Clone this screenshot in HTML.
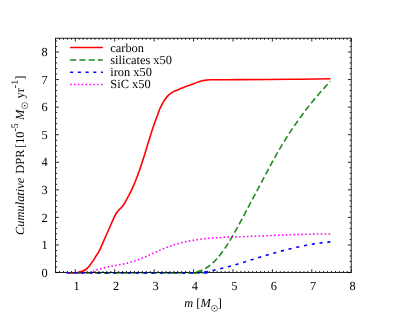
<!DOCTYPE html>
<html><head><meta charset="utf-8"><style>
html,body{margin:0;padding:0;background:#fff;}
svg{display:block;font-family:"Liberation Serif",serif;will-change:transform;}
text{text-rendering:geometricPrecision;}
</style></head><body>
<svg width="407" height="315" viewBox="0 0 407 315">
<defs><filter id="soft" x="0" y="0" width="407" height="315" filterUnits="userSpaceOnUse"><feGaussianBlur stdDeviation="0.35"/></filter></defs>
<rect width="407" height="315" fill="#fff"/>
<g filter="url(#soft)">
<g stroke="#000" stroke-width="0.85" fill="none">
<path d="M55.60 272.55 v-1.60 M55.60 38.20 v1.60"/><path d="M59.54 272.55 v-1.60 M59.54 38.20 v1.60"/><path d="M63.48 272.55 v-1.60 M63.48 38.20 v1.60"/><path d="M67.42 272.55 v-1.60 M67.42 38.20 v1.60"/><path d="M71.37 272.55 v-1.60 M71.37 38.20 v1.60"/><path d="M75.31 272.55 v-3.30 M75.31 38.20 v3.30"/><path d="M79.25 272.55 v-1.60 M79.25 38.20 v1.60"/><path d="M83.19 272.55 v-1.60 M83.19 38.20 v1.60"/><path d="M87.13 272.55 v-1.60 M87.13 38.20 v1.60"/><path d="M91.07 272.55 v-1.60 M91.07 38.20 v1.60"/><path d="M95.01 272.55 v-1.60 M95.01 38.20 v1.60"/><path d="M98.95 272.55 v-1.60 M98.95 38.20 v1.60"/><path d="M102.90 272.55 v-1.60 M102.90 38.20 v1.60"/><path d="M106.84 272.55 v-1.60 M106.84 38.20 v1.60"/><path d="M110.78 272.55 v-1.60 M110.78 38.20 v1.60"/><path d="M114.72 272.55 v-3.30 M114.72 38.20 v3.30"/><path d="M118.66 272.55 v-1.60 M118.66 38.20 v1.60"/><path d="M122.60 272.55 v-1.60 M122.60 38.20 v1.60"/><path d="M126.54 272.55 v-1.60 M126.54 38.20 v1.60"/><path d="M130.49 272.55 v-1.60 M130.49 38.20 v1.60"/><path d="M134.43 272.55 v-1.60 M134.43 38.20 v1.60"/><path d="M138.37 272.55 v-1.60 M138.37 38.20 v1.60"/><path d="M142.31 272.55 v-1.60 M142.31 38.20 v1.60"/><path d="M146.25 272.55 v-1.60 M146.25 38.20 v1.60"/><path d="M150.19 272.55 v-1.60 M150.19 38.20 v1.60"/><path d="M154.13 272.55 v-3.30 M154.13 38.20 v3.30"/><path d="M158.07 272.55 v-1.60 M158.07 38.20 v1.60"/><path d="M162.02 272.55 v-1.60 M162.02 38.20 v1.60"/><path d="M165.96 272.55 v-1.60 M165.96 38.20 v1.60"/><path d="M169.90 272.55 v-1.60 M169.90 38.20 v1.60"/><path d="M173.84 272.55 v-1.60 M173.84 38.20 v1.60"/><path d="M177.78 272.55 v-1.60 M177.78 38.20 v1.60"/><path d="M181.72 272.55 v-1.60 M181.72 38.20 v1.60"/><path d="M185.66 272.55 v-1.60 M185.66 38.20 v1.60"/><path d="M189.61 272.55 v-1.60 M189.61 38.20 v1.60"/><path d="M193.55 272.55 v-3.30 M193.55 38.20 v3.30"/><path d="M197.49 272.55 v-1.60 M197.49 38.20 v1.60"/><path d="M201.43 272.55 v-1.60 M201.43 38.20 v1.60"/><path d="M205.37 272.55 v-1.60 M205.37 38.20 v1.60"/><path d="M209.31 272.55 v-1.60 M209.31 38.20 v1.60"/><path d="M213.25 272.55 v-1.60 M213.25 38.20 v1.60"/><path d="M217.19 272.55 v-1.60 M217.19 38.20 v1.60"/><path d="M221.14 272.55 v-1.60 M221.14 38.20 v1.60"/><path d="M225.08 272.55 v-1.60 M225.08 38.20 v1.60"/><path d="M229.02 272.55 v-1.60 M229.02 38.20 v1.60"/><path d="M232.96 272.55 v-3.30 M232.96 38.20 v3.30"/><path d="M236.90 272.55 v-1.60 M236.90 38.20 v1.60"/><path d="M240.84 272.55 v-1.60 M240.84 38.20 v1.60"/><path d="M244.78 272.55 v-1.60 M244.78 38.20 v1.60"/><path d="M248.73 272.55 v-1.60 M248.73 38.20 v1.60"/><path d="M252.67 272.55 v-1.60 M252.67 38.20 v1.60"/><path d="M256.61 272.55 v-1.60 M256.61 38.20 v1.60"/><path d="M260.55 272.55 v-1.60 M260.55 38.20 v1.60"/><path d="M264.49 272.55 v-1.60 M264.49 38.20 v1.60"/><path d="M268.43 272.55 v-1.60 M268.43 38.20 v1.60"/><path d="M272.37 272.55 v-3.30 M272.37 38.20 v3.30"/><path d="M276.31 272.55 v-1.60 M276.31 38.20 v1.60"/><path d="M280.26 272.55 v-1.60 M280.26 38.20 v1.60"/><path d="M284.20 272.55 v-1.60 M284.20 38.20 v1.60"/><path d="M288.14 272.55 v-1.60 M288.14 38.20 v1.60"/><path d="M292.08 272.55 v-1.60 M292.08 38.20 v1.60"/><path d="M296.02 272.55 v-1.60 M296.02 38.20 v1.60"/><path d="M299.96 272.55 v-1.60 M299.96 38.20 v1.60"/><path d="M303.90 272.55 v-1.60 M303.90 38.20 v1.60"/><path d="M307.85 272.55 v-1.60 M307.85 38.20 v1.60"/><path d="M311.79 272.55 v-3.30 M311.79 38.20 v3.30"/><path d="M315.73 272.55 v-1.60 M315.73 38.20 v1.60"/><path d="M319.67 272.55 v-1.60 M319.67 38.20 v1.60"/><path d="M323.61 272.55 v-1.60 M323.61 38.20 v1.60"/><path d="M327.55 272.55 v-1.60 M327.55 38.20 v1.60"/><path d="M331.49 272.55 v-1.60 M331.49 38.20 v1.60"/><path d="M335.43 272.55 v-1.60 M335.43 38.20 v1.60"/><path d="M339.38 272.55 v-1.60 M339.38 38.20 v1.60"/><path d="M343.32 272.55 v-1.60 M343.32 38.20 v1.60"/><path d="M347.26 272.55 v-1.60 M347.26 38.20 v1.60"/><path d="M351.20 272.55 v-3.30 M351.20 38.20 v3.30"/><path d="M55.60 272.55 h3.30 M351.20 272.55 h-3.30"/><path d="M55.60 267.04 h1.60 M351.20 267.04 h-1.60"/><path d="M55.60 261.52 h1.60 M351.20 261.52 h-1.60"/><path d="M55.60 256.01 h1.60 M351.20 256.01 h-1.60"/><path d="M55.60 250.49 h1.60 M351.20 250.49 h-1.60"/><path d="M55.60 244.98 h3.30 M351.20 244.98 h-3.30"/><path d="M55.60 239.47 h1.60 M351.20 239.47 h-1.60"/><path d="M55.60 233.95 h1.60 M351.20 233.95 h-1.60"/><path d="M55.60 228.44 h1.60 M351.20 228.44 h-1.60"/><path d="M55.60 222.92 h1.60 M351.20 222.92 h-1.60"/><path d="M55.60 217.41 h3.30 M351.20 217.41 h-3.30"/><path d="M55.60 211.89 h1.60 M351.20 211.89 h-1.60"/><path d="M55.60 206.38 h1.60 M351.20 206.38 h-1.60"/><path d="M55.60 200.87 h1.60 M351.20 200.87 h-1.60"/><path d="M55.60 195.35 h1.60 M351.20 195.35 h-1.60"/><path d="M55.60 189.84 h3.30 M351.20 189.84 h-3.30"/><path d="M55.60 184.32 h1.60 M351.20 184.32 h-1.60"/><path d="M55.60 178.81 h1.60 M351.20 178.81 h-1.60"/><path d="M55.60 173.30 h1.60 M351.20 173.30 h-1.60"/><path d="M55.60 167.78 h1.60 M351.20 167.78 h-1.60"/><path d="M55.60 162.27 h3.30 M351.20 162.27 h-3.30"/><path d="M55.60 156.75 h1.60 M351.20 156.75 h-1.60"/><path d="M55.60 151.24 h1.60 M351.20 151.24 h-1.60"/><path d="M55.60 145.73 h1.60 M351.20 145.73 h-1.60"/><path d="M55.60 140.21 h1.60 M351.20 140.21 h-1.60"/><path d="M55.60 134.70 h3.30 M351.20 134.70 h-3.30"/><path d="M55.60 129.18 h1.60 M351.20 129.18 h-1.60"/><path d="M55.60 123.67 h1.60 M351.20 123.67 h-1.60"/><path d="M55.60 118.15 h1.60 M351.20 118.15 h-1.60"/><path d="M55.60 112.64 h1.60 M351.20 112.64 h-1.60"/><path d="M55.60 107.13 h3.30 M351.20 107.13 h-3.30"/><path d="M55.60 101.61 h1.60 M351.20 101.61 h-1.60"/><path d="M55.60 96.10 h1.60 M351.20 96.10 h-1.60"/><path d="M55.60 90.58 h1.60 M351.20 90.58 h-1.60"/><path d="M55.60 85.07 h1.60 M351.20 85.07 h-1.60"/><path d="M55.60 79.56 h3.30 M351.20 79.56 h-3.30"/><path d="M55.60 74.04 h1.60 M351.20 74.04 h-1.60"/><path d="M55.60 68.53 h1.60 M351.20 68.53 h-1.60"/><path d="M55.60 63.01 h1.60 M351.20 63.01 h-1.60"/><path d="M55.60 57.50 h1.60 M351.20 57.50 h-1.60"/><path d="M55.60 51.99 h3.30 M351.20 51.99 h-3.30"/><path d="M55.60 46.47 h1.60 M351.20 46.47 h-1.60"/><path d="M55.60 40.96 h1.60 M351.20 40.96 h-1.60"/>
<rect x="55.6" y="38.2" width="295.60" height="234.35" stroke-width="0.85"/>
</g>
<defs>
<clipPath id="gA"><rect x="0" y="0" width="194" height="315"/></clipPath><clipPath id="gB"><rect x="194" y="0" width="213" height="315"/></clipPath>
<clipPath id="bA"><rect x="0" y="0" width="199" height="315"/></clipPath><clipPath id="bB"><rect x="199" y="0" width="208" height="315"/></clipPath>
<clipPath id="mA"><rect x="0" y="0" width="88" height="315"/></clipPath><clipPath id="mB"><rect x="88" y="0" width="319" height="315"/></clipPath>
</defs>
<g fill="none" stroke-width="1.6" stroke-linejoin="round">
<path d="M67.40 272.90 C68.83 272.89 74.17 272.97 76.00 272.85 C77.83 272.73 77.37 272.46 78.40 272.20 C79.43 271.94 80.97 271.75 82.20 271.30 C83.43 270.85 84.58 270.42 85.80 269.50 C87.02 268.58 88.27 267.28 89.50 265.80 C90.73 264.32 91.97 262.45 93.20 260.60 C94.43 258.75 95.95 256.18 96.90 254.70 C97.85 253.22 97.88 253.72 98.90 251.70 C99.92 249.68 101.63 245.68 103.00 242.60 C104.37 239.52 105.73 236.30 107.10 233.20 C108.47 230.10 110.05 226.60 111.20 224.00 C112.35 221.40 113.12 219.43 114.00 217.60 C114.88 215.77 115.81 214.13 116.50 213.00 C117.19 211.87 117.47 211.58 118.15 210.80 C118.83 210.02 119.77 209.18 120.60 208.30 C121.42 207.42 122.27 206.64 123.10 205.50 C123.93 204.36 124.77 202.89 125.60 201.46 C126.42 200.03 127.23 198.46 128.05 196.90 C128.87 195.34 129.68 193.78 130.50 192.09 C131.32 190.41 132.17 188.65 133.00 186.80 C133.83 184.94 134.73 182.83 135.50 180.96 C136.27 179.08 136.98 177.18 137.60 175.54 C138.22 173.90 138.55 172.98 139.20 171.11 C139.85 169.24 140.57 167.20 141.50 164.33 C142.43 161.46 143.70 157.43 144.80 153.89 C145.90 150.36 147.00 146.67 148.10 143.10 C149.20 139.53 150.43 135.52 151.40 132.49 C152.37 129.46 153.23 126.88 153.90 124.91 C154.57 122.94 154.82 122.24 155.40 120.66 C155.98 119.09 156.66 117.44 157.40 115.46 C158.14 113.49 159.03 110.74 159.85 108.80 C160.67 106.86 161.48 105.32 162.30 103.80 C163.12 102.28 163.83 101.07 164.80 99.70 C165.77 98.33 167.00 96.75 168.10 95.60 C169.20 94.45 170.30 93.55 171.40 92.80 C172.50 92.05 173.32 91.73 174.70 91.10 C176.07 90.47 178.00 89.68 179.65 89.00 C181.30 88.32 182.95 87.62 184.60 87.00 C186.25 86.38 187.93 85.88 189.55 85.30 C191.17 84.72 192.85 84.06 194.30 83.50 C195.75 82.94 196.90 82.40 198.25 81.95 C199.60 81.50 201.03 81.11 202.40 80.80 C203.78 80.49 205.13 80.27 206.50 80.10 C207.87 79.93 207.85 79.87 210.60 79.80 C213.35 79.73 218.18 79.73 223.00 79.70 C227.82 79.67 228.33 79.67 239.50 79.60 C250.67 79.53 274.83 79.43 290.00 79.30 C305.17 79.17 323.75 78.88 330.50 78.80" stroke="#ff0000"/>
<path d="M67.40 272.90 C88.50 272.90 172.47 273.05 194.00 272.90 C215.53 272.75 195.49 272.34 196.60 271.98 C197.71 271.62 199.31 271.27 200.66 270.74 C202.01 270.22 203.36 269.60 204.72 268.85 C206.07 268.10 207.42 267.24 208.77 266.24 C210.13 265.25 211.48 264.13 212.83 262.87 C214.18 261.62 215.54 260.23 216.89 258.72 C218.24 257.20 219.59 255.54 220.95 253.78 C222.30 252.01 223.65 250.11 225.00 248.13 C226.36 246.14 227.71 244.04 229.06 241.87 C230.41 239.70 231.77 237.43 233.12 235.10 C234.47 232.78 235.82 230.37 237.18 227.93 C238.53 225.49 239.88 222.98 241.23 220.46 C242.59 217.94 243.94 215.38 245.29 212.82 C246.64 210.27 248.00 207.69 249.35 205.13 C250.70 202.57 252.05 200.00 253.41 197.45 C254.76 194.89 256.11 192.33 257.46 189.78 C258.82 187.23 260.17 184.68 261.52 182.14 C262.87 179.60 264.23 177.05 265.58 174.52 C266.93 172.00 268.28 169.47 269.64 166.97 C270.99 164.48 272.34 161.99 273.69 159.55 C275.05 157.10 276.40 154.68 277.75 152.32 C279.10 149.96 280.46 147.64 281.81 145.38 C283.16 143.12 284.51 140.92 285.87 138.76 C287.22 136.60 288.57 134.49 289.92 132.42 C291.28 130.35 292.63 128.33 293.98 126.35 C295.33 124.37 296.69 122.43 298.04 120.52 C299.39 118.62 300.74 116.75 302.10 114.92 C303.45 113.09 304.80 111.30 306.15 109.53 C307.51 107.77 308.86 106.05 310.21 104.35 C311.56 102.66 312.92 101.00 314.27 99.37 C315.62 97.74 316.97 96.14 318.33 94.57 C319.68 93.00 321.03 91.46 322.38 89.95 C323.74 88.44 325.09 86.96 326.44 85.50 C327.79 84.04 329.82 81.92 330.50 81.20" stroke="#228b22" stroke-dasharray="6.17 3.09" clip-path="url(#gA)"/>
<path d="M67.40 272.90 C88.50 272.90 172.47 273.05 194.00 272.90 C215.53 272.75 195.49 272.34 196.60 271.98 C197.71 271.62 199.31 271.27 200.66 270.74 C202.01 270.22 203.36 269.60 204.72 268.85 C206.07 268.10 207.42 267.24 208.77 266.24 C210.13 265.25 211.48 264.13 212.83 262.87 C214.18 261.62 215.54 260.23 216.89 258.72 C218.24 257.20 219.59 255.54 220.95 253.78 C222.30 252.01 223.65 250.11 225.00 248.13 C226.36 246.14 227.71 244.04 229.06 241.87 C230.41 239.70 231.77 237.43 233.12 235.10 C234.47 232.78 235.82 230.37 237.18 227.93 C238.53 225.49 239.88 222.98 241.23 220.46 C242.59 217.94 243.94 215.38 245.29 212.82 C246.64 210.27 248.00 207.69 249.35 205.13 C250.70 202.57 252.05 200.00 253.41 197.45 C254.76 194.89 256.11 192.33 257.46 189.78 C258.82 187.23 260.17 184.68 261.52 182.14 C262.87 179.60 264.23 177.05 265.58 174.52 C266.93 172.00 268.28 169.47 269.64 166.97 C270.99 164.48 272.34 161.99 273.69 159.55 C275.05 157.10 276.40 154.68 277.75 152.32 C279.10 149.96 280.46 147.64 281.81 145.38 C283.16 143.12 284.51 140.92 285.87 138.76 C287.22 136.60 288.57 134.49 289.92 132.42 C291.28 130.35 292.63 128.33 293.98 126.35 C295.33 124.37 296.69 122.43 298.04 120.52 C299.39 118.62 300.74 116.75 302.10 114.92 C303.45 113.09 304.80 111.30 306.15 109.53 C307.51 107.77 308.86 106.05 310.21 104.35 C311.56 102.66 312.92 101.00 314.27 99.37 C315.62 97.74 316.97 96.14 318.33 94.57 C319.68 93.00 321.03 91.46 322.38 89.95 C323.74 88.44 325.09 86.96 326.44 85.50 C327.79 84.04 329.82 81.92 330.50 81.20" stroke="#228b22" stroke-dasharray="6.27 3.14" stroke-dashoffset="6.7" clip-path="url(#gB)"/>
<path d="M66.60 272.90 C88.67 272.90 176.43 273.00 199.00 272.90 C221.57 272.80 200.83 272.50 202.00 272.30 C203.17 272.10 204.67 271.91 206.01 271.69 C207.35 271.47 208.68 271.23 210.02 270.98 C211.36 270.73 212.69 270.46 214.03 270.18 C215.36 269.89 216.70 269.60 218.04 269.29 C219.37 268.98 220.71 268.66 222.05 268.33 C223.38 268.00 224.72 267.65 226.06 267.30 C227.39 266.95 228.73 266.59 230.07 266.22 C231.40 265.85 232.74 265.47 234.07 265.09 C235.41 264.70 236.75 264.31 238.08 263.91 C239.42 263.52 240.76 263.12 242.09 262.71 C243.43 262.31 244.77 261.90 246.10 261.49 C247.44 261.08 248.78 260.67 250.11 260.26 C251.45 259.84 252.79 259.43 254.12 259.02 C255.46 258.61 256.79 258.19 258.13 257.78 C259.47 257.38 260.80 256.97 262.14 256.56 C263.48 256.16 264.81 255.76 266.15 255.36 C267.49 254.97 268.82 254.58 270.16 254.19 C271.50 253.80 272.83 253.42 274.17 253.04 C275.51 252.66 276.84 252.29 278.18 251.92 C279.51 251.55 280.85 251.19 282.19 250.84 C283.52 250.48 284.86 250.13 286.20 249.79 C287.53 249.45 288.87 249.11 290.21 248.79 C291.54 248.46 292.88 248.14 294.22 247.83 C295.55 247.52 296.89 247.21 298.23 246.92 C299.56 246.63 300.90 246.34 302.23 246.07 C303.57 245.79 304.91 245.53 306.24 245.27 C307.58 245.02 308.92 244.77 310.25 244.54 C311.59 244.30 312.93 244.08 314.26 243.86 C315.60 243.65 316.94 243.45 318.27 243.26 C319.61 243.07 320.94 242.90 322.28 242.73 C323.62 242.57 324.95 242.42 326.29 242.28 C327.63 242.14 329.63 241.97 330.30 241.91" stroke="#0000ff" stroke-dasharray="3.08 4.64" clip-path="url(#bA)"/>
<path d="M66.60 272.90 C88.67 272.90 176.43 273.00 199.00 272.90 C221.57 272.80 200.83 272.50 202.00 272.30 C203.17 272.10 204.67 271.91 206.01 271.69 C207.35 271.47 208.68 271.23 210.02 270.98 C211.36 270.73 212.69 270.46 214.03 270.18 C215.36 269.89 216.70 269.60 218.04 269.29 C219.37 268.98 220.71 268.66 222.05 268.33 C223.38 268.00 224.72 267.65 226.06 267.30 C227.39 266.95 228.73 266.59 230.07 266.22 C231.40 265.85 232.74 265.47 234.07 265.09 C235.41 264.70 236.75 264.31 238.08 263.91 C239.42 263.52 240.76 263.12 242.09 262.71 C243.43 262.31 244.77 261.90 246.10 261.49 C247.44 261.08 248.78 260.67 250.11 260.26 C251.45 259.84 252.79 259.43 254.12 259.02 C255.46 258.61 256.79 258.19 258.13 257.78 C259.47 257.38 260.80 256.97 262.14 256.56 C263.48 256.16 264.81 255.76 266.15 255.36 C267.49 254.97 268.82 254.58 270.16 254.19 C271.50 253.80 272.83 253.42 274.17 253.04 C275.51 252.66 276.84 252.29 278.18 251.92 C279.51 251.55 280.85 251.19 282.19 250.84 C283.52 250.48 284.86 250.13 286.20 249.79 C287.53 249.45 288.87 249.11 290.21 248.79 C291.54 248.46 292.88 248.14 294.22 247.83 C295.55 247.52 296.89 247.21 298.23 246.92 C299.56 246.63 300.90 246.34 302.23 246.07 C303.57 245.79 304.91 245.53 306.24 245.27 C307.58 245.02 308.92 244.77 310.25 244.54 C311.59 244.30 312.93 244.08 314.26 243.86 C315.60 243.65 316.94 243.45 318.27 243.26 C319.61 243.07 320.94 242.90 322.28 242.73 C323.62 242.57 324.95 242.42 326.29 242.28 C327.63 242.14 329.63 241.97 330.30 241.91" stroke="#0000ff" stroke-dasharray="3.15 4.75" stroke-dashoffset="4.7" clip-path="url(#bB)"/>
<path d="M67.40 272.90 C70.83 272.90 83.98 273.06 88.00 272.90 C92.02 272.74 90.25 272.38 91.50 271.96 C92.75 271.53 94.15 270.84 95.48 270.35 C96.81 269.87 98.13 269.44 99.46 269.04 C100.79 268.64 102.11 268.29 103.44 267.96 C104.77 267.63 106.09 267.33 107.42 267.05 C108.75 266.77 110.07 266.52 111.40 266.26 C112.73 266.01 114.05 265.78 115.38 265.54 C116.71 265.29 118.03 265.06 119.36 264.81 C120.69 264.56 122.01 264.31 123.34 264.03 C124.67 263.75 125.99 263.47 127.32 263.14 C128.65 262.81 129.97 262.47 131.30 262.08 C132.63 261.69 133.95 261.26 135.28 260.80 C136.61 260.34 137.93 259.84 139.26 259.33 C140.59 258.81 141.91 258.26 143.24 257.71 C144.57 257.15 145.89 256.56 147.22 255.98 C148.55 255.39 149.87 254.78 151.20 254.18 C152.53 253.58 153.85 252.97 155.18 252.37 C156.51 251.77 157.83 251.17 159.16 250.59 C160.49 250.00 161.81 249.42 163.14 248.87 C164.47 248.32 165.79 247.78 167.12 247.27 C168.45 246.76 169.77 246.28 171.10 245.82 C172.43 245.36 173.75 244.93 175.08 244.51 C176.41 244.10 177.73 243.72 179.06 243.35 C180.39 242.99 181.71 242.65 183.04 242.33 C184.37 242.01 185.69 241.71 187.02 241.42 C188.35 241.14 189.67 240.88 191.00 240.64 C192.33 240.39 193.65 240.16 194.98 239.95 C196.31 239.74 197.63 239.55 198.96 239.37 C200.29 239.19 201.61 239.02 202.94 238.87 C204.27 238.72 205.59 238.58 206.92 238.46 C208.25 238.33 209.57 238.22 210.90 238.11 C212.23 238.00 213.55 237.91 214.88 237.82 C216.21 237.74 217.53 237.66 218.86 237.59 C220.19 237.52 221.51 237.45 222.84 237.40 C224.17 237.34 225.49 237.28 226.82 237.23 C228.15 237.18 229.47 237.14 230.80 237.09 C232.13 237.04 233.45 237.00 234.78 236.96 C236.11 236.92 237.43 236.87 238.76 236.83 C240.09 236.78 241.41 236.74 242.74 236.69 C244.07 236.64 245.39 236.60 246.72 236.55 C248.05 236.49 249.37 236.44 250.70 236.39 C252.03 236.34 253.35 236.28 254.68 236.23 C256.01 236.18 257.33 236.12 258.66 236.07 C259.99 236.01 261.31 235.95 262.64 235.90 C263.97 235.84 265.29 235.78 266.62 235.73 C267.95 235.67 269.27 235.61 270.60 235.56 C271.93 235.50 273.25 235.44 274.58 235.39 C275.91 235.33 277.23 235.28 278.56 235.22 C279.89 235.17 281.21 235.11 282.54 235.06 C283.87 235.01 285.19 234.96 286.52 234.91 C287.85 234.86 289.17 234.81 290.50 234.76 C291.83 234.71 293.15 234.66 294.48 234.62 C295.81 234.57 297.13 234.53 298.46 234.49 C299.79 234.45 301.11 234.41 302.44 234.37 C303.77 234.33 305.09 234.30 306.42 234.27 C307.75 234.23 309.07 234.20 310.40 234.18 C311.73 234.15 313.05 234.13 314.38 234.10 C315.71 234.08 317.03 234.06 318.36 234.05 C319.69 234.03 321.01 234.02 322.34 234.01 C323.67 234.00 324.99 234.00 326.32 234.00 C327.65 234.00 329.64 234.00 330.30 234.00" stroke="#ff00ff" stroke-dasharray="1.54 2.32" clip-path="url(#mA)"/>
<path d="M67.40 272.90 C70.83 272.90 83.98 273.06 88.00 272.90 C92.02 272.74 90.25 272.38 91.50 271.96 C92.75 271.53 94.15 270.84 95.48 270.35 C96.81 269.87 98.13 269.44 99.46 269.04 C100.79 268.64 102.11 268.29 103.44 267.96 C104.77 267.63 106.09 267.33 107.42 267.05 C108.75 266.77 110.07 266.52 111.40 266.26 C112.73 266.01 114.05 265.78 115.38 265.54 C116.71 265.29 118.03 265.06 119.36 264.81 C120.69 264.56 122.01 264.31 123.34 264.03 C124.67 263.75 125.99 263.47 127.32 263.14 C128.65 262.81 129.97 262.47 131.30 262.08 C132.63 261.69 133.95 261.26 135.28 260.80 C136.61 260.34 137.93 259.84 139.26 259.33 C140.59 258.81 141.91 258.26 143.24 257.71 C144.57 257.15 145.89 256.56 147.22 255.98 C148.55 255.39 149.87 254.78 151.20 254.18 C152.53 253.58 153.85 252.97 155.18 252.37 C156.51 251.77 157.83 251.17 159.16 250.59 C160.49 250.00 161.81 249.42 163.14 248.87 C164.47 248.32 165.79 247.78 167.12 247.27 C168.45 246.76 169.77 246.28 171.10 245.82 C172.43 245.36 173.75 244.93 175.08 244.51 C176.41 244.10 177.73 243.72 179.06 243.35 C180.39 242.99 181.71 242.65 183.04 242.33 C184.37 242.01 185.69 241.71 187.02 241.42 C188.35 241.14 189.67 240.88 191.00 240.64 C192.33 240.39 193.65 240.16 194.98 239.95 C196.31 239.74 197.63 239.55 198.96 239.37 C200.29 239.19 201.61 239.02 202.94 238.87 C204.27 238.72 205.59 238.58 206.92 238.46 C208.25 238.33 209.57 238.22 210.90 238.11 C212.23 238.00 213.55 237.91 214.88 237.82 C216.21 237.74 217.53 237.66 218.86 237.59 C220.19 237.52 221.51 237.45 222.84 237.40 C224.17 237.34 225.49 237.28 226.82 237.23 C228.15 237.18 229.47 237.14 230.80 237.09 C232.13 237.04 233.45 237.00 234.78 236.96 C236.11 236.92 237.43 236.87 238.76 236.83 C240.09 236.78 241.41 236.74 242.74 236.69 C244.07 236.64 245.39 236.60 246.72 236.55 C248.05 236.49 249.37 236.44 250.70 236.39 C252.03 236.34 253.35 236.28 254.68 236.23 C256.01 236.18 257.33 236.12 258.66 236.07 C259.99 236.01 261.31 235.95 262.64 235.90 C263.97 235.84 265.29 235.78 266.62 235.73 C267.95 235.67 269.27 235.61 270.60 235.56 C271.93 235.50 273.25 235.44 274.58 235.39 C275.91 235.33 277.23 235.28 278.56 235.22 C279.89 235.17 281.21 235.11 282.54 235.06 C283.87 235.01 285.19 234.96 286.52 234.91 C287.85 234.86 289.17 234.81 290.50 234.76 C291.83 234.71 293.15 234.66 294.48 234.62 C295.81 234.57 297.13 234.53 298.46 234.49 C299.79 234.45 301.11 234.41 302.44 234.37 C303.77 234.33 305.09 234.30 306.42 234.27 C307.75 234.23 309.07 234.20 310.40 234.18 C311.73 234.15 313.05 234.13 314.38 234.10 C315.71 234.08 317.03 234.06 318.36 234.05 C319.69 234.03 321.01 234.02 322.34 234.01 C323.67 234.00 324.99 234.00 326.32 234.00 C327.65 234.00 329.64 234.00 330.30 234.00" stroke="#ff00ff" stroke-dasharray="1.55 2.34" stroke-dashoffset="1.6" clip-path="url(#mB)"/>
</g>
<path d="M67 272.55H203" stroke="#000" stroke-opacity="0.5" stroke-width="1.05" fill="none"/>
<g font-size="12.4px" fill="#000">
<text x="76.71" y="290.0" text-anchor="middle">1</text><text x="116.12" y="290.0" text-anchor="middle">2</text><text x="155.53" y="290.0" text-anchor="middle">3</text><text x="194.95" y="290.0" text-anchor="middle">4</text><text x="234.36" y="290.0" text-anchor="middle">5</text><text x="273.77" y="290.0" text-anchor="middle">6</text><text x="313.19" y="290.0" text-anchor="middle">7</text><text x="352.60" y="290.0" text-anchor="middle">8</text>
<text x="47.8" y="276.65" text-anchor="end">0</text><text x="47.8" y="249.08" text-anchor="end">1</text><text x="47.8" y="221.51" text-anchor="end">2</text><text x="47.8" y="193.94" text-anchor="end">3</text><text x="47.8" y="166.37" text-anchor="end">4</text><text x="47.8" y="138.80" text-anchor="end">5</text><text x="47.8" y="111.23" text-anchor="end">6</text><text x="47.8" y="83.66" text-anchor="end">7</text><text x="47.8" y="56.09" text-anchor="end">8</text>
</g>
<g fill="none" stroke-width="1.5">
<path d="M70.1 47.4H102.9" stroke="#ff0000"/>
<path d="M70.1 59.95H102.9" stroke="#228b22" stroke-dasharray="6.17 3.09"/>
<path d="M70.1 72.2H102.9" stroke="#0000ff" stroke-dasharray="3.08 4.64"/>
<path d="M70.1 84.4H102.9" stroke="#ff00ff" stroke-dasharray="1.54 2.32"/>
</g>
<g font-size="12.4px" fill="#000">
<text x="110.3" y="51.9">carbon</text>
<text x="110.3" y="64.3">silicates x50</text>
<text x="110.3" y="76.2">iron x50</text>
<text x="110.3" y="88.2">SiC x50</text>
</g>
<g font-size="12.4px" fill="#000">
<text x="184.2" y="306.8"><tspan font-style="italic">m</tspan> [<tspan font-style="italic">M</tspan></text>
<text x="217.8" y="306.8">]</text>
<g transform="translate(23.8,0) rotate(-90)">
<text x="-234.9" y="0" font-style="italic">Cumulative</text>
<text x="-173.7" y="0">DPR</text>
<text x="-148.0" y="0">[10<tspan font-size="10px" dy="-6.1">-5</tspan><tspan dy="6.1"> </tspan><tspan font-style="italic">M</tspan></text>
<text x="-98.5" y="0">yr<tspan font-size="10px" dy="-6.1">-1</tspan><tspan dy="6.1">]</tspan></text>
</g>
</g>
<g fill="none" stroke="#000" stroke-width="0.5">
<circle cx="214.4" cy="308.3" r="3.0"/>
<circle cx="24.8" cy="105.6" r="3.0"/>
</g>
<circle cx="214.4" cy="308.3" r="0.75" fill="#000"/>
<circle cx="24.8" cy="105.7" r="0.75" fill="#000"/>
</g>
</svg>
</body></html>
